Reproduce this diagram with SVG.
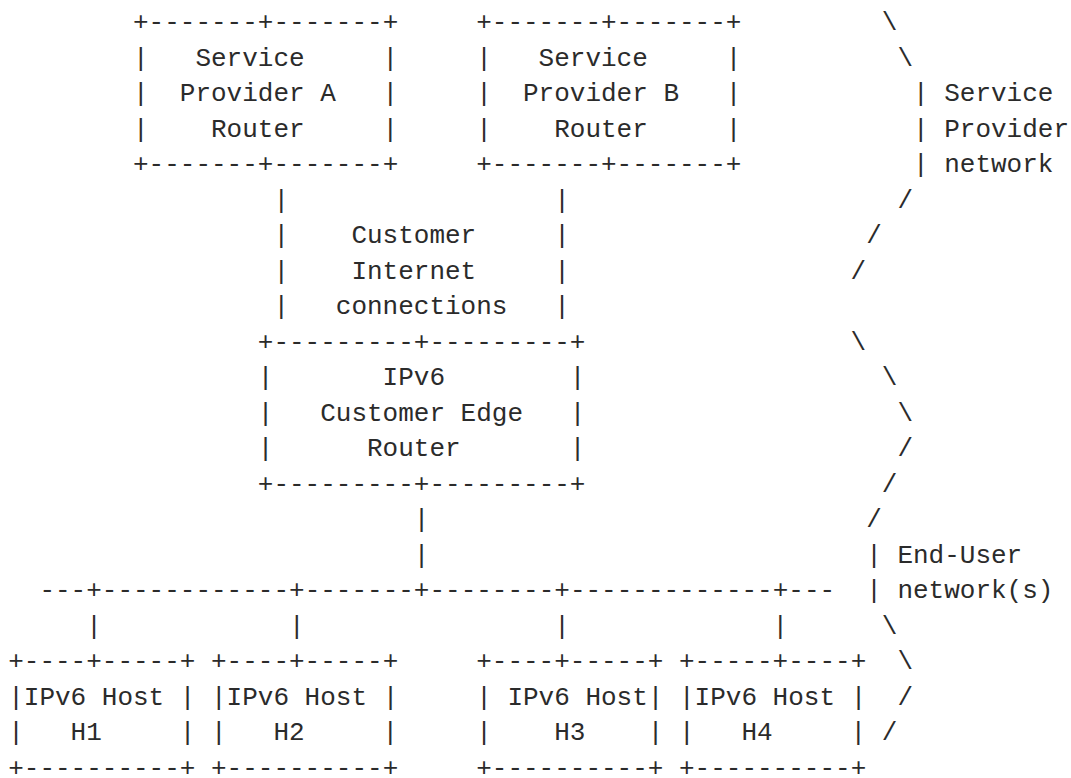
<svg xmlns="http://www.w3.org/2000/svg" width="1071" height="778" viewBox="0 0 1071 778">
<style>
text{font-family:"Liberation Mono","DejaVu Sans Mono",monospace;font-size:26px;fill:#2b2b2b;white-space:pre}
</style>
<rect width="1071" height="778" fill="#ffffff"/>
<g id="sp-a">
<text x="133.0" y="30">+-------+-------+</text>
<text x="133.0" y="65.5">|</text><text x="195.4" y="65.5">Service</text><text x="382.6" y="65.5">|</text>
<text x="133.0" y="101">|</text><text x="179.8" y="101">Provider A</text><text x="382.6" y="101">|</text>
<text x="133.0" y="136.5">|</text><text x="211.0" y="136.5">Router</text><text x="382.6" y="136.5">|</text>
<text x="133.0" y="172">+-------+-------+</text>
</g>
<g id="sp-b">
<text x="476.2" y="30">+-------+-------+</text>
<text x="476.2" y="65.5">|</text><text x="538.6" y="65.5">Service</text><text x="725.8" y="65.5">|</text>
<text x="476.2" y="101">|</text><text x="523.0" y="101">Provider B</text><text x="725.8" y="101">|</text>
<text x="476.2" y="136.5">|</text><text x="554.2" y="136.5">Router</text><text x="725.8" y="136.5">|</text>
<text x="476.2" y="172">+-------+-------+</text>
</g>
<g id="ce-router">
<text x="257.8" y="349.5">+---------+---------+</text>
<text x="257.8" y="385">|</text><text x="382.6" y="385">IPv6</text><text x="569.8" y="385">|</text>
<text x="257.8" y="420.5">|</text><text x="320.2" y="420.5">Customer Edge</text><text x="569.8" y="420.5">|</text>
<text x="257.8" y="456">|</text><text x="367.0" y="456">Router</text><text x="569.8" y="456">|</text>
<text x="257.8" y="491.5">+---------+---------+</text>
</g>
<g id="host-h1">
<text x="8.2" y="669">+----+-----+</text>
<text x="8.2" y="704.5">|IPv6 Host |</text>
<text x="8.2" y="740">|</text><text x="70.6" y="740">H1</text><text x="179.8" y="740">|</text>
<text x="8.2" y="775.5">+----------+</text>
</g>
<g id="host-h2">
<text x="211.0" y="669">+----+-----+</text>
<text x="211.0" y="704.5">|IPv6 Host |</text>
<text x="211.0" y="740">|</text><text x="273.4" y="740">H2</text><text x="382.6" y="740">|</text>
<text x="211.0" y="775.5">+----------+</text>
</g>
<g id="host-h3">
<text x="476.2" y="669">+----+-----+</text>
<text x="476.2" y="704.5">| IPv6 Host|</text>
<text x="476.2" y="740">|</text><text x="554.2" y="740">H3</text><text x="647.8" y="740">|</text>
<text x="476.2" y="775.5">+----------+</text>
</g>
<g id="host-h4">
<text x="679.0" y="669">+-----+----+</text>
<text x="679.0" y="704.5">|IPv6 Host |</text>
<text x="679.0" y="740">|</text><text x="741.4" y="740">H4</text><text x="850.6" y="740">|</text>
<text x="679.0" y="775.5">+----------+</text>
</g>
<g id="connectors">
<text x="273.4" y="207.5">|</text><text x="554.2" y="207.5">|</text>
<text x="273.4" y="243">|</text><text x="554.2" y="243">|</text>
<text x="273.4" y="278.5">|</text><text x="554.2" y="278.5">|</text>
<text x="273.4" y="314">|</text><text x="554.2" y="314">|</text>
<text x="351.4" y="243">Customer</text>
<text x="351.4" y="278.5">Internet</text>
<text x="335.8" y="314">connections</text>
<text x="413.8" y="527">|</text>
<text x="413.8" y="562.5">|</text>
<text x="39.4" y="598">---+------------+-------+--------+-------------+---</text>
<text x="86.2" y="633.5">|</text><text x="289.0" y="633.5">|</text><text x="554.2" y="633.5">|</text><text x="772.6" y="633.5">|</text>
</g>
<g id="sp-network">
<text x="881.8" y="30">\</text>
<text x="897.4" y="65.5">\</text>
<text x="913.0" y="101">| Service</text>
<text x="913.0" y="136.5">| Provider</text>
<text x="913.0" y="172">| network</text>
<text x="897.4" y="207.5">/</text>
<text x="866.2" y="243">/</text>
<text x="850.6" y="278.5">/</text>
</g>
<g id="eu-network">
<text x="850.6" y="349.5">\</text>
<text x="881.8" y="385">\</text>
<text x="897.4" y="420.5">\</text>
<text x="897.4" y="456">/</text>
<text x="881.8" y="491.5">/</text>
<text x="866.2" y="527">/</text>
<text x="866.2" y="562.5">| End-User</text>
<text x="866.2" y="598">| network(s)</text>
<text x="881.8" y="633.5">\</text>
<text x="897.4" y="669">\</text>
<text x="897.4" y="704.5">/</text>
<text x="881.8" y="740">/</text>
</g>
</svg>
